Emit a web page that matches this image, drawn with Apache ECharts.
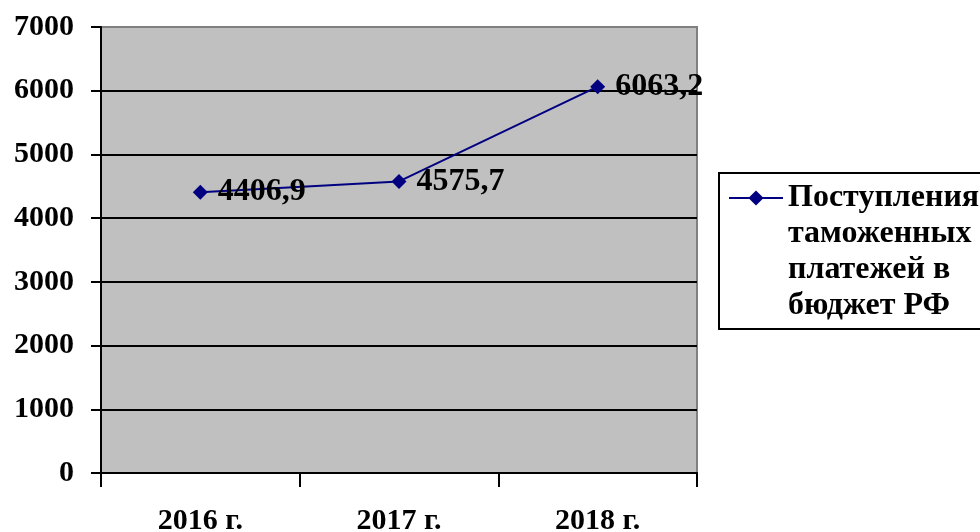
<!DOCTYPE html>
<html><head><meta charset="utf-8">
<script src="https://cdn.jsdelivr.net/npm/echarts@6/dist/echarts.min.js"></script>
<style>html,body{margin:0;padding:0;background:#fff}#c{width:980px;height:532px}</style>
</head><body><div id="c"></div>
<script>
var categories = ['2016 г.', '2017 г.', '2018 г.'];
var values = [4406.9, 4575.7, 6063.2];
var valueLabels = ['4406,9', '4575,7', '6063,2'];
var seriesName = 'Поступления\nтаможенных\nплатежей в\nбюджет РФ';
var FONT = '"Liberation Serif", "Times New Roman", serif';
var chart = echarts.init(document.getElementById('c'));
chart.setOption({
  animation: false,
  backgroundColor: '#fff',
  grid: {left: 101, top: 27, width: 596, height: 446, show: true, backgroundColor: '#C0C0C0', borderColor: '#808080', borderWidth: 2, outerBoundsMode: 'none', containLabel: false},
  graphic: [{type: 'rect', left: 718, top: 172, shape: {width: 300, height: 156}, style: {fill: '#fff', stroke: '#000', lineWidth: 2}, z: 0}],
  legend: {
    left: 728, top: 72, orient: 'vertical',
    padding: 0,
    itemWidth: 54, itemHeight: 19, itemGap: 0,
    data: [{name: seriesName}],
    formatter: function (n) { return '\n\n\n' + n; },
    textStyle: {fontFamily: FONT, fontWeight: 'bold', fontSize: 32, color: '#000', lineHeight: 36}
  },
  xAxis: {
    type: 'category', data: categories, boundaryGap: true,
    axisLine: {lineStyle: {color: '#000', width: 2}},
    axisTick: {show: true, length: 14, lineStyle: {color: '#000', width: 2}},
    axisLabel: {margin: 33, color: '#000', fontFamily: FONT, fontWeight: 'bold', fontSize: 30},
    splitLine: {show: false}
  },
  yAxis: {
    type: 'value', min: 0, max: 7000, interval: 1000,
    axisLine: {show: true, lineStyle: {color: '#000', width: 2}},
    axisTick: {show: true, length: 10, lineStyle: {color: '#000', width: 2}},
    axisLabel: {margin: 27, color: '#000', fontFamily: FONT, fontWeight: 'bold', fontSize: 30, formatter: function (v) { return String(v); }},
    splitLine: {show: true, lineStyle: {color: ['#000','#000','#000','#000','#000','#000','#000','#808080'], width: 2}}
  },
  series: [{
    name: seriesName, type: 'line', data: values,
    symbol: 'diamond', symbolSize: 15,
    itemStyle: {color: '#000080'},
    lineStyle: {color: '#000080', width: 2},
    label: {
      show: true, position: 'right', distance: 10,
      formatter: function (p) { return valueLabels[p.dataIndex]; },
      color: '#000', fontFamily: FONT, fontWeight: 'bold', fontSize: 32
    },
    z: 5
  }]
});
</script></body></html>
